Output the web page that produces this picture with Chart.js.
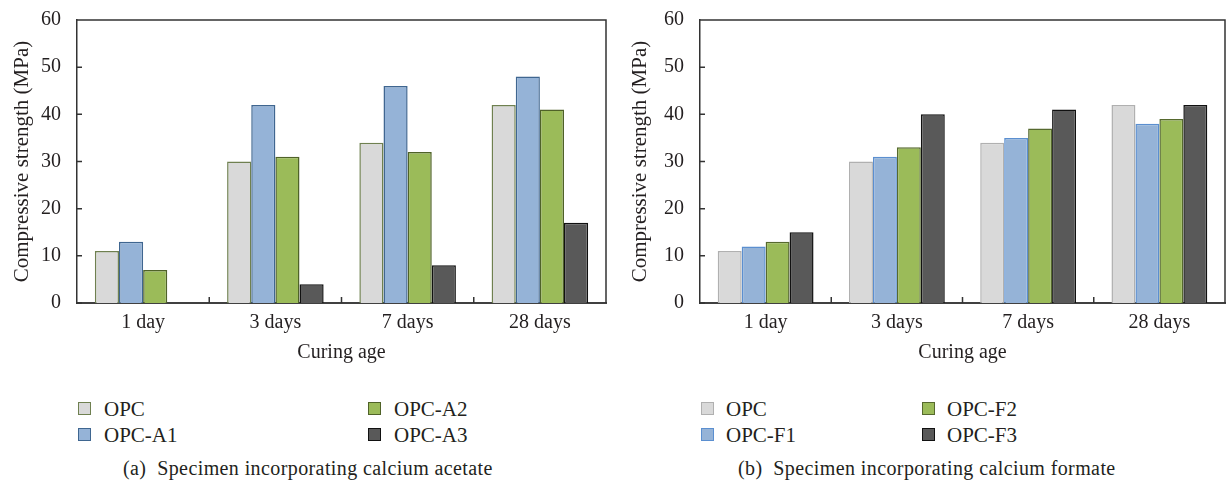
<!DOCTYPE html>
<html>
<head>
  <meta charset="UTF-8" />
  <title>Compressive strength</title>
  <script src="https://cdn.jsdelivr.net/npm/chart.js"></script>
  <style>
    body {
      margin: 0;
      background: white;
      width: 1226px;
      height: 485px;
      position: relative;
      overflow: hidden;
      font-family: 'Liberation Serif', serif;
      color: #231f20;
    }
    canvas { position: absolute; top: 0; }
    #chartA { left: 0; }
    #chartB { left: 626px; }
    .key {
      position: absolute;
      font-size: 21px;
      line-height: 24px;
      white-space: nowrap;
    }
    .key i {
      position: absolute;
      left: 0;
      top: 5px;
      width: 11px;
      height: 11px;
      border: 1.5px solid;
    }
    .key span { position: absolute; top: 0; }
    .caption {
      position: absolute;
      font-size: 20px;
      line-height: 22px;
      letter-spacing: 0.4px;
      white-space: nowrap;
    }
  </style>
</head>
<body>
  <canvas id="chartA" width="620" height="370"></canvas>
  <canvas id="chartB" width="600" height="370"></canvas>
  <div id="keys"></div>
  <div class="caption" style="left:123px; top:457px;">(a)&nbsp; Specimen incorporating calcium acetate</div>
  <div class="caption" style="left:738px; top:457px;">(b)&nbsp; Specimen incorporating calcium formate</div>

  <script>
    const ages = ['1 day', '3 days', '7 days', '28 days'];

    // (a) calcium acetate
    const opcA = [11, 30, 34, 42];
    const opcA1 = [13, 42, 46, 48];
    const opcA2 = [7, 31, 32, 41];
    const opcA3 = [0, 4, 8, 17];

    // (b) calcium formate
    const opcB = [11, 30, 34, 42];
    const opcF1 = [12, 31, 35, 38];
    const opcF2 = [13, 33, 37, 39];
    const opcF3 = [15, 40, 41, 42];

    const fills = ['#d9d9d9', '#95b3d7', '#9bbb59', '#595959'];
    const edgesA = ['#6f8050', '#3f6690', '#4f6228', '#111111'];
    const edgesB = ['#b0b0b0', '#5b8fd0', '#56692e', '#111111'];

    const font = { family: "'Liberation Serif', serif", size: 20 };
    const ink = '#231f20';

    const frame = {
      id: 'frame',
      afterDraw(chart) {
        const { ctx, chartArea: a, scales: { x, y } } = chart;
        ctx.save();
        ctx.strokeStyle = '#333';
        ctx.lineWidth = 1.5;
        ctx.beginPath();
        ctx.moveTo(a.left, a.top);
        ctx.lineTo(a.right, a.top);
        ctx.lineTo(a.right, a.bottom);
        y.ticks.forEach(t => {
          const py = y.getPixelForValue(t.value);
          ctx.moveTo(a.left, py);
          ctx.lineTo(a.left + 5, py);
        });
        for (let i = 1; i < x.ticks.length; i++) {
          const px = (x.getPixelForValue(i - 1) + x.getPixelForValue(i)) / 2;
          ctx.moveTo(px, a.bottom);
          ctx.lineTo(px, a.bottom - 6);
        }
        ctx.stroke();
        ctx.restore();
      }
    };

    function makeChart(id, labels, series, edges, yWidth, yTitlePad, padRight) {
      return new Chart(document.getElementById(id), {
        type: 'bar',
        data: {
          labels: ages,
          datasets: series.map((s, i) => ({
            label: labels[i],
            data: s,
            backgroundColor: fills[i],
            borderColor: edges[i],
            borderWidth: 1.5,
            borderSkipped: 'start',
            barPercentage: 1,
            categoryPercentage: 0.73
          }))
        },
        options: {
          responsive: false,
          animation: false,
          devicePixelRatio: 1,
          layout: { padding: { top: 16, right: padRight, left: 0, bottom: 0 } },
          plugins: { legend: { display: false }, tooltip: { enabled: false } },
          scales: {
            x: {
              grid: { display: false },
              border: { display: true, color: '#404040', width: 2 },
              ticks: { font: font, color: ink, padding: 0 },
              title: { display: true, text: 'Curing age', font: font, color: ink, padding: { top: 0, bottom: 5 } },
              afterFit: s => { s.height = 67; }
            },
            y: {
              min: 0,
              max: 60,
              grid: { display: false },
              border: { display: true, color: '#333', width: 1.5 },
              ticks: { stepSize: 10, font: font, color: ink, padding: 8 },
              title: { display: true, text: 'Compressive strength (MPa)', font: { family: font.family, size: 21 }, color: ink, padding: { top: yTitlePad, bottom: 0 } },
              afterFit: s => { s.width = yWidth; }
            }
          }
        },
        plugins: [frame]
      });
    }

    const namesA = ['OPC', 'OPC-A1', 'OPC-A2', 'OPC-A3'];
    const namesB = ['OPC', 'OPC-F1', 'OPC-F2', 'OPC-F3'];

    makeChart('chartA', namesA, [opcA, opcA1, opcA2, opcA3], edgesA, 77, 10, 14);
    makeChart('chartB', namesB, [opcB, opcF1, opcF2, opcF3], edgesB, 74, 2, 1);

    // legends laid out in two columns, like the figure
    function addKeys(names, edges, col1, col2, textGap) {
      const host = document.getElementById('keys');
      names.forEach((n, i) => {
        const d = document.createElement('div');
        d.className = 'key';
        d.style.left = (i < 2 ? col1 : col2) + 'px';
        d.style.top = (i % 2 === 0 ? 397 : 423) + 'px';
        d.innerHTML = '<i style="background:' + fills[i] + ';border-color:' + edges[i] + '"></i>' +
          '<span style="left:' + textGap + 'px">' + n + '</span>';
        host.appendChild(d);
      });
    }
    addKeys(namesA, edgesA, 78, 368, 26);
    addKeys(namesB, edgesB, 701, 922, 25);
  </script>
</body>
</html>
